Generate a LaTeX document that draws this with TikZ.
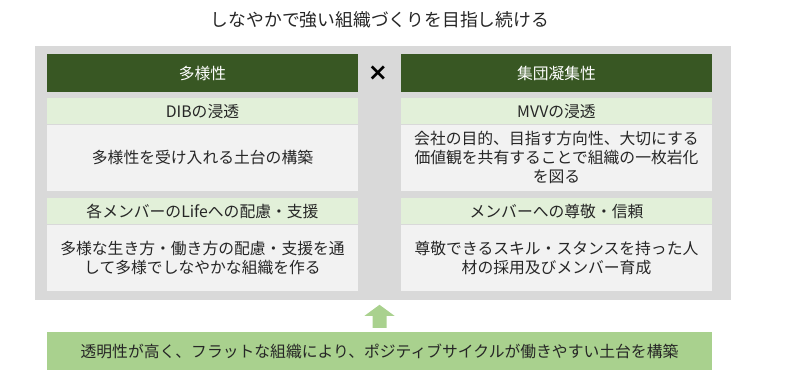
\documentclass[tikz,border=0pt]{standalone}
\usepackage{fontspec}
\setmainfont{Noto Sans CJK JP}
\newfontfamily\symfont{DejaVu Sans}
\usepackage{tikz}
\usetikzlibrary{positioning}
\definecolor{hdgreen}{HTML}{385723}
\definecolor{ltgreen}{HTML}{E2F0D9}
\definecolor{ltgray}{HTML}{F2F2F2}
\definecolor{panel}{HTML}{D9D9D9}
\definecolor{midgreen}{HTML}{A9D18E}

\begin{document}
\begin{tikzpicture}[x=1pt, y=-1pt, font=\fontsize{15.8}{19}\selectfont, text=black!85,
  head/.style={fill=hdgreen, text=white, minimum width=311pt, minimum height=38pt, inner sep=0pt},
  sub/.style={fill=ltgreen, minimum width=311pt, minimum height=26pt, inner sep=0pt},
  bodybox/.style={fill=ltgray, minimum width=311pt, minimum height=66pt, inner sep=0pt, align=center}]
\useasboundingbox (0,0) rectangle (800,380);
\fill[panel] (35,46) rectangle (731,300);
\node[font=\fontsize{17.8}{21}\selectfont] (title) at (380,20) {しなやかで強い組織づくりを目指し続ける};
% left column
\node[head] (div) at (202.5,73) {多様性};
\node[sub, below=6pt of div] (dib) {DIBの浸透};
\node[bodybox, below=0pt of dib] (dibtxt) {多様性を受け入れる土台の構築};
\node[sub, below=7pt of dibtxt] (life) {各メンバーのLifeへの配慮・支援};
\node[bodybox, below=0pt of life] (lifetxt) {多様な生き方・働き方の配慮・支援を通\\して多様でしなやかな組織を作る};
% right column
\node[head] (coh) at (556.5,73) {集団凝集性};
\node[sub, below=6pt of coh] (mvv) {MVVの浸透};
\node[bodybox, below=0pt of mvv] (mvvtxt) {会社の目的、目指す方向性、大切にする\\価値観を共有することで組織の一枚岩化\\を図る};
\node[sub, below=7pt of mvvtxt] (resp) {メンバーへの尊敬・信頼};
\node[bodybox, below=0pt of resp] (resptxt) {尊敬できるスキル・スタンスを持った人\\材の採用及びメンバー育成};
\node[font=\symfont\bfseries\fontsize{24}{26}\selectfont, text=black] (times) at (378,73) {×};
% base
\node[fill=midgreen, minimum width=665pt, minimum height=38pt, inner sep=0pt] (base) at (379.5,351) {透明性が高く、フラットな組織により、ポジティブサイクルが働きやすい土台を構築};
% block arrow up
\fill[midgreen] ([xshift=-7pt, yshift=4pt]base.north) -- ++(0,-12) -- ++(-8,0) -- ++(15,-11)
  -- ++(15,11) -- ++(-8,0) -- ++(0,12) -- cycle;
\end{tikzpicture}
\end{document}
